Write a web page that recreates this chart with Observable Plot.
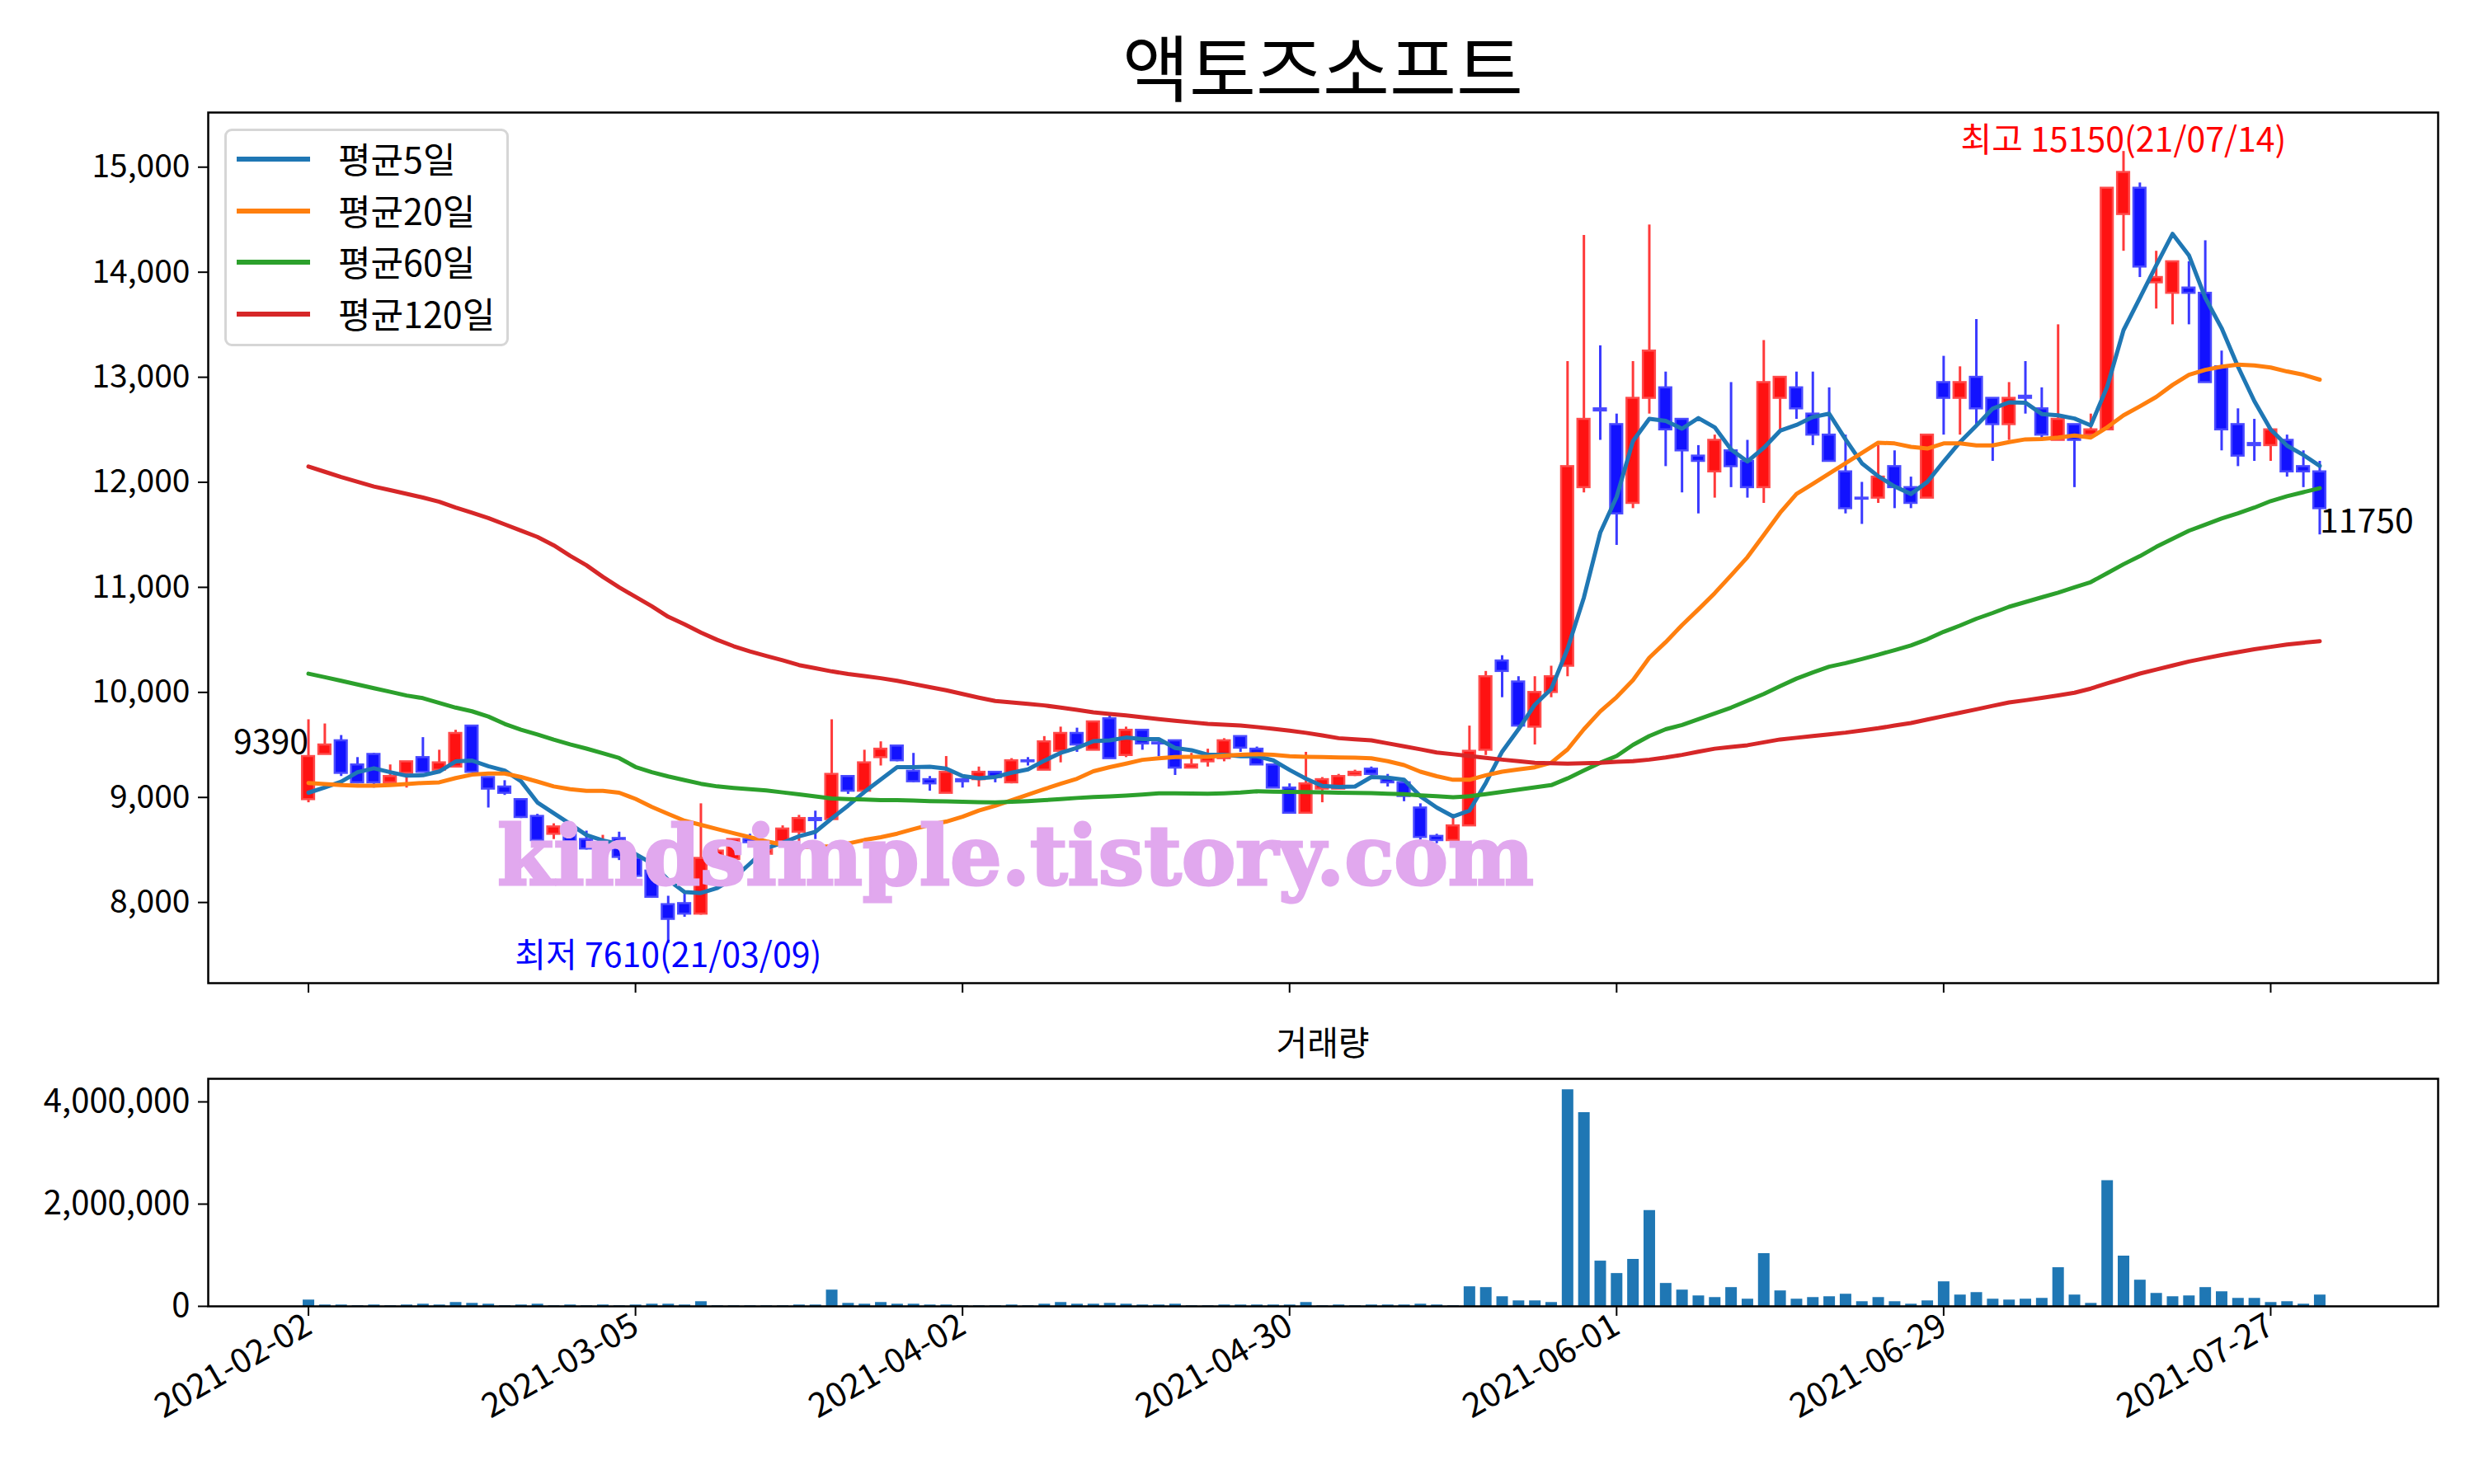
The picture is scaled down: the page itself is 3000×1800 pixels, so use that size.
<!DOCTYPE html>
<html>
<head>
<meta charset="utf-8">
<script src="https://cdn.jsdelivr.net/npm/d3@7"></script>
<script src="https://cdn.jsdelivr.net/npm/@observablehq/plot@0.6"></script>
<style>
  html, body { margin: 0; padding: 0; background: #fff; }
  #wrap { position: relative; width: 3000px; height: 1800px; background: #fff; overflow: hidden;
          font-family: "Noto Sans CJK KR", "Noto Sans", sans-serif; color: #000; }
  .abs { position: absolute; }
  #title { left: 0; width: 3208px; top: 34px; text-align: center; font-size: 88px; line-height: 1; }
  #voltitle { left: 0; width: 3208px; top: 1242px; text-align: center; font-size: 41px; line-height: 1; }
  #legend { left: 272px; top: 156px; width: 339px; height: 258px; border: 3px solid #d6d6d6; border-radius: 9px;
            background: rgba(255,255,255,0.85); box-sizing: content-box; }
  .lrow { position: absolute; left: 0; height: 60px; width: 100%; }
  .lline { position: absolute; left: 12px; width: 89px; height: 6px; top: 27px; }
  .ltext { position: absolute; left: 135px; top: 3px; font-size: 43px; line-height: 1.2; white-space: nowrap; }
  #main, #vol { position: absolute; left: 0; }
  #main { top: 0; }
  #vol { top: 1220px; }
  #wm { position: absolute; left: 0; top: 0; pointer-events: none; }
</style>
</head>
<body>
<div id="wrap">
  <div id="main"></div>
  <div id="vol"></div>
</div>
<script>
// ---------- data ----------
const title = "액토즈소프트";
const volTitle = "거래량";
const tickIdx = [0, 20, 40, 60, 80, 100, 120];
const tickLabels = ["2021-02-02", "2021-03-05", "2021-04-02", "2021-04-30", "2021-06-01", "2021-06-29", "2021-07-27"];
const highDate = "21/07/14";
const lowDate = "21/03/09";
const seriesNames = ["평균5일", "평균20일", "평균60일", "평균120일"];
const seriesColors = ["#1f77b4", "#ff7f0e", "#2ca02c", "#d62728"];

const open = [8980,9410,9540,9310,9410,9140,9230,9380,9260,9290,9680,9190,9100,8980,8820,8650,8700,8600,8500,8610,
8420,8300,7980,7990,7890,8420,8410,8600,8460,8580,8670,8800,8790,9200,9060,9380,9490,9250,9170,9040,
9170,9170,9240,9140,9350,9260,9440,9610,9450,9750,9400,9640,9520,9540,9280,9340,9370,9580,9460,9310,
9090,8850,9080,9080,9210,9270,9180,9140,8900,8630,8590,8730,9450,10300,10100,9670,10000,10250,11950,12700,
12550,11800,12800,12900,12600,12250,12100,12300,12200,11950,12800,12900,12650,12450,12100,11850,11850,12150,11950,11850,
12950,12800,13000,12800,12550,12820,12700,12400,12550,12450,12500,14550,14800,13900,13800,13850,13800,13100,12550,12370,
12350,12400,12150,12100];
const high = [9740,9700,9590,9380,9420,9310,9340,9570,9450,9640,9680,9190,9160,8980,8840,8750,8720,8680,8640,8670,
8440,8320,8060,8100,8940,8520,8600,8650,8560,8730,8830,8870,9740,9200,9450,9530,9490,9420,9200,9390,
9170,9290,9240,9370,9380,9580,9670,9660,9720,9780,9670,9640,9560,9540,9420,9460,9560,9580,9480,9310,
9130,9430,9190,9220,9260,9290,9220,9160,8940,8650,8820,9680,10200,10350,10150,10150,10250,13150,14350,13300,
12650,13150,14450,13050,12600,12350,12450,12950,12400,13350,13000,13050,13050,12900,12450,12000,12350,12300,12050,12450,
13200,13100,13550,12800,12950,13150,12900,13500,12550,12650,14800,15150,14850,14200,14100,14100,14300,13250,12700,12600,
12500,12450,12300,12200];
const low = [8950,9410,9200,9130,9090,9140,9090,9240,9250,9290,9240,8900,9020,8800,8590,8600,8560,8500,8480,8400,
8200,8040,7610,7860,7880,8380,8400,8550,8440,8560,8570,8600,8790,9030,9060,9300,9340,9140,9060,9040,
9090,9100,9140,9130,9300,9260,9330,9430,9450,9370,9380,9450,9390,9210,9280,9290,9340,9430,9310,9090,
8850,8850,8950,9080,9200,9210,9100,8960,8590,8560,8590,8730,9400,9950,9650,9500,9950,10150,11900,12400,
11400,11750,12650,12150,11900,11700,11850,11950,11850,11800,12500,12600,12350,12200,11700,11600,11800,11750,11750,11850,
12450,12450,12550,12200,12400,12650,12400,12400,11950,12450,12500,14200,13950,13650,13500,13500,12950,12300,12150,12200,
12200,12050,11950,11500];
const close = [9390,9500,9230,9140,9140,9200,9340,9240,9330,9610,9240,9080,9040,8810,8590,8720,8580,8510,8540,8430,
8250,8050,7840,7890,8420,8490,8600,8570,8500,8700,8800,8780,9220,9060,9330,9460,9350,9150,9130,9240,
9150,9240,9190,9350,9340,9530,9610,9500,9720,9370,9640,9510,9510,9280,9310,9390,9540,9470,9310,9090,
8850,9130,9170,9200,9240,9220,9140,9010,8620,8590,8730,9440,10150,10200,9680,10000,10150,12150,12600,12680,
11700,12800,13250,12500,12300,12200,12400,12150,11950,12950,13000,12700,12450,12200,11750,11840,12050,11950,11800,12450,
12800,12950,12700,12550,12800,12800,12450,12600,12400,12500,14800,14950,14050,13950,14100,13800,12950,12500,12250,12350,
12500,12100,12100,11750];
const volume = [124000,27000,27000,12000,27000,12000,27000,43000,27000,76000,59000,43000,12000,27000,43000,12000,27000,12000,27000,12000,
27000,43000,43000,27000,92000,12000,12000,12000,12000,12000,27000,27000,319000,59000,43000,76000,43000,43000,27000,27000,
12000,12000,12000,27000,12000,43000,76000,43000,43000,59000,43000,27000,27000,43000,12000,12000,27000,27000,27000,27000,
27000,76000,12000,27000,12000,27000,27000,27000,43000,27000,12000,384000,368000,189000,108000,108000,76000,4240000,3790000,886000,
643000,919000,1876000,449000,319000,205000,173000,368000,141000,1032000,303000,141000,173000,189000,238000,92000,173000,92000,43000,108000,
481000,222000,270000,141000,124000,141000,157000,757000,222000,59000,2460000,984000,513000,254000,189000,205000,368000,286000,157000,157000,
76000,92000,43000,222000];
const ma5 = [9045,9095,9150,9240,9278,9240,9207,9211,9247,9343,9351,9297,9256,9154,8952,8850,8748,8642,8590,8556,
8462,8372,8215,8100,8090,8137,8230,8370,8516,8569,8630,8672,8800,8922,9052,9170,9288,9288,9293,9275,
9204,9183,9195,9235,9267,9350,9424,9471,9536,9544,9570,9555,9555,9471,9450,9406,9406,9392,9392,9353,
9262,9178,9110,9100,9104,9194,9189,9168,9011,8904,8819,8875,9138,9436,9649,9883,10032,10415,10904,11521,
11861,12393,12605,12584,12510,12611,12523,12312,12198,12328,12491,12546,12621,12653,12409,12181,12058,11960,11889,12003,
12198,12383,12539,12702,12761,12758,12650,12638,12607,12542,12908,13448,13756,14065,14365,14161,13756,13467,13101,12773,
12503,12349,12260,12156];
const ma20 = [9138,9128,9118,9111,9111,9118,9128,9138,9144,9184,9217,9227,9227,9194,9151,9105,9078,9062,9062,9045,
8986,8910,8843,8778,8739,8699,8660,8621,8582,8550,8529,8529,8535,8561,8595,8621,8655,8699,8739,8770,
8817,8875,8920,8974,9026,9079,9131,9178,9249,9288,9322,9358,9372,9385,9387,9387,9398,9406,9411,9406,
9392,9387,9385,9380,9378,9372,9345,9308,9245,9202,9168,9168,9211,9245,9266,9287,9330,9457,9649,9819,
9955,10117,10330,10478,10640,10790,10945,11114,11287,11498,11710,11889,11986,12084,12181,12279,12377,12370,12338,12321,
12370,12370,12351,12351,12383,12409,12412,12426,12445,12426,12523,12638,12723,12812,12927,13024,13070,13101,13120,13112,
13093,13055,13024,12977];
const ma60 = [10178,10145,10110,10075,10040,10005,9970,9945,9900,9855,9820,9770,9700,9645,9600,9550,9505,9465,9420,9375,
9290,9240,9200,9165,9130,9105,9090,9078,9066,9048,9030,9010,8990,8985,8980,8975,8975,8970,8965,8962,
8958,8955,8952,8958,8965,8974,8985,8995,9003,9010,9018,9028,9039,9040,9038,9035,9040,9047,9058,9055,
9052,9050,9048,9045,9043,9041,9036,9032,9020,9011,9002,9011,9032,9053,9075,9096,9117,9181,9257,9330,
9394,9500,9585,9649,9690,9745,9799,9855,9920,9985,10060,10131,10190,10245,10278,10317,10359,10402,10447,10506,
10577,10636,10701,10756,10815,10860,10905,10950,11000,11050,11135,11220,11297,11385,11462,11539,11597,11655,11705,11759,
11821,11867,11906,11944];
const ma120 = [12150,12100,12050,12005,11960,11925,11890,11855,11815,11760,11710,11660,11600,11540,11480,11400,11300,11210,11100,11000,
10910,10820,10720,10648,10570,10500,10440,10390,10347,10305,10260,10230,10200,10175,10155,10135,10110,10080,10050,10020,
9985,9950,9918,9905,9890,9876,9855,9833,9811,9795,9780,9763,9746,9730,9715,9701,9693,9685,9670,9654,
9635,9615,9590,9564,9553,9543,9515,9487,9458,9428,9411,9394,9377,9360,9345,9330,9325,9321,9325,9330,
9340,9345,9360,9380,9405,9436,9464,9480,9497,9525,9552,9568,9585,9601,9617,9638,9659,9684,9708,9741,
9774,9806,9839,9872,9904,9925,9947,9971,9997,10036,10086,10132,10179,10217,10256,10294,10325,10356,10383,10410,
10433,10456,10472,10487];

// ---------- build table ----------
const rows = open.map((o, i) => ({i, open: o, high: high[i], low: low[i], close: close[i], vol: volume[i],
  ma5: ma5[i], ma20: ma20[i], ma60: ma60[i], ma120: ma120[i]}));
const up = rows.filter(d => d.close >= d.open);
const down = rows.filter(d => d.close < d.open);
const last = rows[rows.length - 1];
const maxI = d3.maxIndex(high);
const minI = d3.minIndex(low);

const xDomain = [-6.13, 130.24];
const FONT = '"Noto Sans CJK KR", "Noto Sans", sans-serif';
const half = 0.37;
const TICK_FS = 39;
const ANN_FS = 41;

const main = Plot.plot({
  width: 3000, height: 1220,
  marginLeft: 252, marginRight: 44, marginTop: 136, marginBottom: 28,
  style: {fontFamily: FONT, fontSize: TICK_FS + "px", background: "transparent", color: "#000", overflow: "visible"},
  x: {domain: xDomain, label: null},
  y: {domain: [7232, 15520], label: null},
  marks: [
    Plot.ruleX(up, {x: "i", y1: "low", y2: "high", stroke: "#ff3a3a", strokeWidth: 3}),
    Plot.ruleX(down, {x: "i", y1: "low", y2: "high", stroke: "#3a3aff", strokeWidth: 3}),
    Plot.rect(up, {x1: d => d.i - half, x2: d => d.i + half, y1: "open", y2: "close", fill: "#ff1212", stroke: "#ff4a4a", strokeWidth: 2.5}),
    Plot.rect(down, {x1: d => d.i - half, x2: d => d.i + half, y1: "open", y2: "close", fill: "#1212ff", stroke: "#4a4aff", strokeWidth: 2.5}),
    Plot.line(rows, {x: "i", y: "ma5", stroke: seriesColors[0], strokeWidth: 5}),
    Plot.line(rows, {x: "i", y: "ma20", stroke: seriesColors[1], strokeWidth: 5}),
    Plot.line(rows, {x: "i", y: "ma60", stroke: seriesColors[2], strokeWidth: 5}),
    Plot.line(rows, {x: "i", y: "ma120", stroke: seriesColors[3], strokeWidth: 5}),
    Plot.text([rows[0]], {x: "i", y: "close", text: d => String(d.close), textAnchor: "end", lineAnchor: "bottom", dy: -4, fontSize: ANN_FS, fill: "#000"}),
    Plot.text([last], {x: "i", y: "close", text: d => String(d.close), textAnchor: "start", lineAnchor: "top", fontSize: ANN_FS, fill: "#000"}),
    Plot.text([rows[maxI]], {x: "i", y: "high", text: d => `최고 ${d.high}(${highDate})`, textAnchor: "middle", lineAnchor: "bottom", fontSize: ANN_FS, fill: "#ff0000"}),
    Plot.text([rows[minI]], {x: "i", y: "low", text: d => `최저 ${d.low}(${lowDate})`, textAnchor: "middle", lineAnchor: "top", fontSize: ANN_FS, fill: "#0000ff"}),
    Plot.frame({stroke: "#000", strokeWidth: 2.5}),
    Plot.axisY({ticks: d3.range(8000, 15001, 1000), tickFormat: d3.format(","), tickSize: 12, tickPadding: 10, strokeWidth: 2, label: null, fontSize: TICK_FS}),
    Plot.axisX({ticks: tickIdx, tickFormat: () => "", tickSize: 12, strokeWidth: 2, label: null})
  ]
});
document.getElementById("main").appendChild(main);

const vol = Plot.plot({
  width: 3000, height: 580,
  marginLeft: 252, marginRight: 44, marginTop: 88, marginBottom: 216,
  style: {fontFamily: FONT, fontSize: TICK_FS + "px", background: "transparent", color: "#000", overflow: "visible"},
  x: {domain: xDomain, label: null},
  y: {domain: [0, 4452000], label: null},
  marks: [
    Plot.ruleX(rows, {x: "i", y: "vol", stroke: "#1f77b4", strokeWidth: 14}),
    Plot.frame({stroke: "#000", strokeWidth: 2.5}),
    Plot.axisY({ticks: [0, 2000000, 4000000], tickFormat: d3.format(","), tickSize: 12, tickPadding: 10, strokeWidth: 2, label: null, fontSize: 40}),
    Plot.axisX({ticks: tickIdx, tickFormat: d => tickLabels[tickIdx.indexOf(d)], tickRotate: -30, tickSize: 12, tickPadding: 8, strokeWidth: 2, label: null, fontSize: 41})
  ]
});
document.getElementById("vol").appendChild(vol);

// ---------- titles, legend, watermark ----------
const wrap = document.getElementById("wrap");
const t = document.createElement("div"); t.id = "title"; t.className = "abs"; t.textContent = title; wrap.appendChild(t);
const vt = document.createElement("div"); vt.id = "voltitle"; vt.className = "abs"; vt.textContent = volTitle; wrap.appendChild(vt);

const lg = document.createElement("div"); lg.id = "legend"; lg.className = "abs";
seriesNames.forEach((name, k) => {
  const r = document.createElement("div"); r.className = "lrow"; r.style.top = (4 + k * 62.7) + "px";
  const ln = document.createElement("div"); ln.className = "lline"; ln.style.background = seriesColors[k];
  const tx = document.createElement("div"); tx.className = "ltext"; tx.textContent = name;
  r.appendChild(ln); r.appendChild(tx); lg.appendChild(r);
});
wrap.appendChild(lg);

const ns = "http://www.w3.org/2000/svg";
const wm = document.createElementNS(ns, "svg");
wm.setAttribute("id", "wm"); wm.setAttribute("width", 3000); wm.setAttribute("height", 1800);
const wt = document.createElementNS(ns, "text");
wt.setAttribute("x", 603); wt.setAttribute("y", 1073);
wt.setAttribute("font-family", "DejaVu Serif");
wt.setAttribute("font-weight", "bold");
wt.setAttribute("font-size", 100);
wt.setAttribute("fill", "#e1a8ee");
wt.setAttribute("stroke", "#e1a8ee");
wt.setAttribute("stroke-width", 3);
wt.setAttribute("textLength", 1257);
wt.setAttribute("lengthAdjust", "spacingAndGlyphs");
wt.textContent = "kindsimple.tistory.com";
wm.appendChild(wt);
wrap.appendChild(wm);
</script>
</body>
</html>
